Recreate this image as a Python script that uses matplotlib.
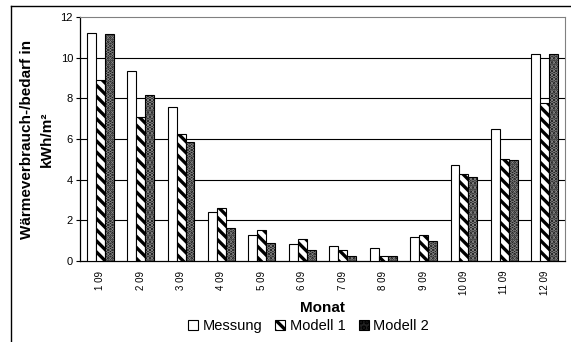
import matplotlib.pyplot as plt
import numpy as np
from matplotlib.lines import Line2D
from matplotlib.patches import Patch

plt.rcParams['font.family'] = ['Liberation Sans', 'DejaVu Sans']
plt.rcParams['hatch.linewidth'] = 2.4

# monthly heat consumption / demand in kWh/m2
monate = ['1 09', '2 09', '3 09', '4 09', '5 09', '6 09',
          '7 09', '8 09', '9 09', '10 09', '11 09', '12 09']
messung = [11.2, 9.35, 7.56, 2.43, 1.26, 0.82, 0.72, 0.66, 1.16, 4.72, 6.51, 10.2]
modell1 = [8.9, 7.08, 6.26, 2.59, 1.51, 1.07, 0.54, 0.26, 1.26, 4.28, 5.02, 7.76]
modell2 = [11.15, 8.15, 5.87, 1.6, 0.87, 0.53, 0.26, 0.26, 0.97, 4.15, 4.97, 10.17]

fig = plt.figure(figsize=(5.71, 3.42), dpi=100)
ax = fig.add_axes([0.1401, 0.2368, 0.8494, 0.7135])

x = np.arange(len(monate))
w = 0.222

ax.bar(x - w, messung, w, color='white', edgecolor='black', linewidth=0.8, zorder=3)
ax.bar(x, modell1, w, color='white', edgecolor='black', linewidth=0.8,
       hatch='\\\\\\', zorder=3)
# dotted bars: dark fill with grey dots, then a black outline on top
ax.bar(x + w, modell2, w, color='#111111', edgecolor='#8a8a8a', linewidth=0,
       hatch='....', zorder=3)
ax.bar(x + w, modell2, w, fill=False, edgecolor='black', linewidth=0.8, zorder=4)

ax.set_xlim(-0.5, len(monate) - 0.5)
ax.set_ylim(0, 12)
ax.set_yticks(range(0, 13, 2))
ax.tick_params(axis='y', labelsize=8, length=3, width=0.8, pad=2)
ax.set_xticks(x)
ax.set_xticklabels(monate, rotation=90, fontsize=7)
ax.tick_params(axis='x', length=0, pad=7)

for v in range(2, 12, 2):
    ax.axhline(v, color='black', linewidth=0.8, zorder=1)

for s in ['top', 'right']:
    ax.spines[s].set_color('#808080')
    ax.spines[s].set_linewidth(0.8)
for s in ['left', 'bottom']:
    ax.spines[s].set_color('black')
    ax.spines[s].set_linewidth(0.9)

ax.set_ylabel('Wärmeverbrauch-/bedarf in\nkWh/m²', fontsize=11,
              fontweight='bold', linespacing=1.5, labelpad=5)
ax.set_xlabel('Monat', fontsize=11, fontweight='bold', labelpad=4)

handles = [
    Patch(facecolor='white', edgecolor='black', linewidth=0.8),
    Patch(facecolor='white', edgecolor='black', linewidth=0.8, hatch='\\\\\\'),
    Patch(facecolor='#222222', edgecolor='black', linewidth=0.8, hatch='...'),
]
fig.legend(handles, ['Messung', 'Modell 1', 'Modell 2'], loc='center',
           bbox_to_anchor=(0.5 + 0.04, 1 - 326 / 342), ncol=3, frameon=False,
           fontsize=10.5, handlelength=0.7, handleheight=0.7,
           handletextpad=0.3, columnspacing=0.9)

# outer chart frame
fig.add_artist(Line2D([11 / 571, 1], [1 - 6 / 342, 1 - 6 / 342],
                      transform=fig.transFigure, color='black', linewidth=1))
fig.add_artist(Line2D([11 / 571, 11 / 571], [0, 1 - 6 / 342],
                      transform=fig.transFigure, color='black', linewidth=1))

fig.savefig('out.png', dpi=100)
